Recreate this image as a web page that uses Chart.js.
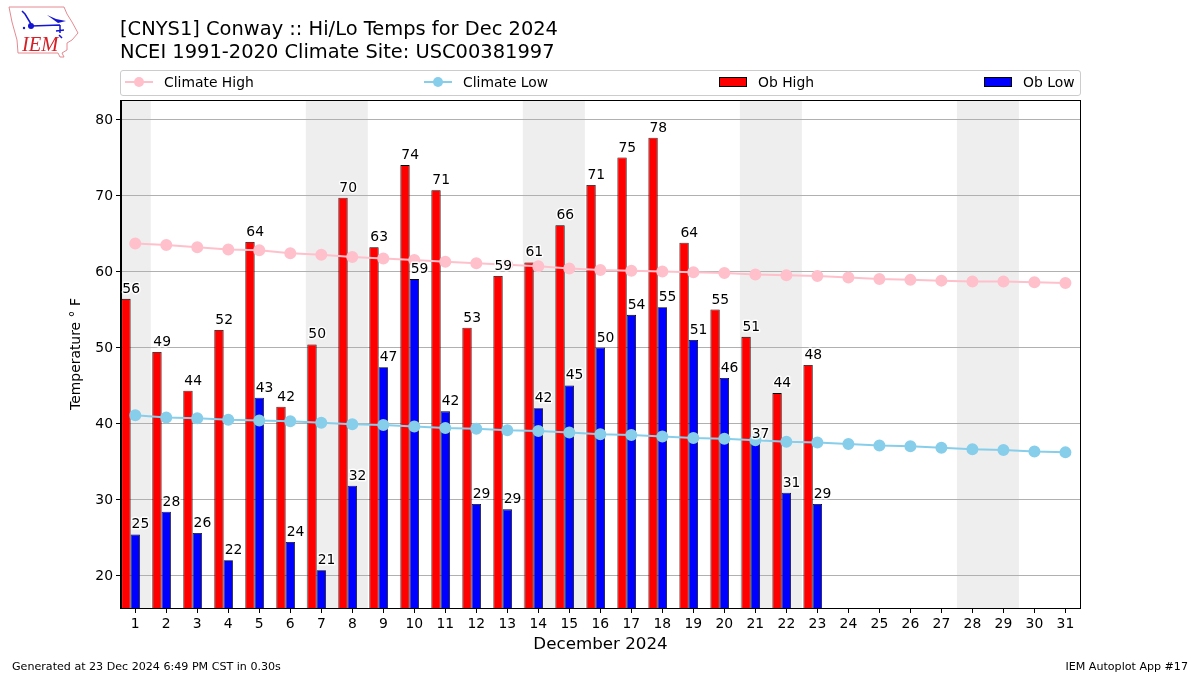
<!DOCTYPE html>
<html>
<head>
<meta charset="utf-8">
<title>Conway Hi/Lo Temps for Dec 2024</title>
<script src="https://cdn.jsdelivr.net/npm/chart.js@4/dist/chart.umd.min.js"></script>
<style>
  html, body { margin: 0; padding: 0; background: #fff; }
  body { position: relative; width: 1200px; height: 675px; overflow: hidden; font-family: "DejaVu Sans", sans-serif; color: #000; }
  canvas { position: absolute; left: 0; top: 0; }
  #logo { position: absolute; left: 0; top: 0; }
  #title { position: absolute; left: 120px; top: 18px; font-size: 19.45px; line-height: 22.6px; white-space: pre; }
  #legend { position: absolute; left: 120px; top: 70px; width: 959px; height: 24px; border: 1px solid #ccc; border-radius: 3px; font-size: 13.9px; }
  .item { position: absolute; top: 0; height: 24px; line-height: 22px; white-space: nowrap; }
  .item svg { position: absolute; left: 0; top: 0; }
  .item span { position: absolute; left: 39px; }
  .foot { position: absolute; top: 660px; font-size: 11.1px; line-height: 13px; white-space: nowrap; }
</style>
</head>
<body>
<canvas id="chart" width="1200" height="675"></canvas>
<svg id="logo" width="90" height="62" viewBox="0 0 90 62">
  <path d="M9 7 L64 7 L67 14 L72 22 L78 33 L72 40 L67 43 L67 50 L62 53 L64 57 L60 57 L58 53 L18 53 L17 40 L12 22 Z" fill="none" stroke="#e58a90" stroke-width="1"/>
  <path d="M31 26 L60 25 M31 24 L25 14 L22 11 M60 25 L60 33 M56 31 L64 30 M59 35 L62 38" stroke="#1414d2" stroke-width="1.5" fill="none"/>
  <path d="M47 15 L56 19 L66 21 L58 23 Z" fill="#1414d2"/>
  <circle cx="31" cy="26" r="3" fill="#1414d2"/>
  <circle cx="24" cy="28" r="1.2" fill="#1414d2"/>
  <text x="22" y="51" font-family="Liberation Serif" font-style="italic" font-size="20.5" fill="#d62027">IEM</text>
</svg>
<div id="title">[CNYS1] Conway :: Hi/Lo Temps for Dec 2024
NCEI 1991-2020 Climate Site: USC00381997</div>
<div id="legend"></div>
<div class="foot" style="left:12px">Generated at 23 Dec 2024 6:49 PM CST in 0.30s</div>
<div class="foot" style="right:12px">IEM Autoplot App #17</div>
<script>
const DAYS = Array.from({ length: 31 }, (_, i) => i + 1);
const Y_TICKS = [20, 30, 40, 50, 60, 70, 80];

const CLIMATE_HIGH = [63.7, 63.5, 63.2, 62.9, 62.8, 62.4, 62.2, 61.9, 61.7, 61.5, 61.3, 61.1, 60.9, 60.7, 60.4, 60.2,
  60.1, 60.0, 59.9, 59.8, 59.6, 59.5, 59.4, 59.2, 59.0, 58.9, 58.8, 58.7, 58.7, 58.6, 58.5];
const CLIMATE_LOW = [41.1, 40.8, 40.7, 40.5, 40.4, 40.3, 40.1, 39.9, 39.8, 39.6, 39.4, 39.3, 39.1, 39.0, 38.8, 38.6,
  38.5, 38.3, 38.1, 38.0, 37.8, 37.6, 37.5, 37.3, 37.1, 37.0, 36.8, 36.6, 36.5, 36.3, 36.2];
const OB_HIGH = [56.4, 49.4, 44.3, 52.3, 63.9, 42.2, 50.4, 69.7, 63.2, 74.0, 70.7, 52.6, 59.4, 61.2, 66.1, 71.4,
  75.0, 77.6, 63.8, 55.0, 51.4, 44.0, 47.7];
const OB_LOW = [25.4, 28.4, 25.6, 22.0, 43.4, 24.4, 20.7, 31.8, 47.4, 59.0, 41.6, 29.4, 28.7, 42.0, 45.0, 50.0,
  54.3, 55.3, 51.0, 46.0, 37.3, 30.9, 29.4];
// weekends get a grey band, as day ranges
const WEEKENDS = [[0.5, 1.5], [6.5, 8.5], [13.5, 15.5], [20.5, 22.5], [27.5, 29.5]];

// the original puts the high bar at day-0.3 and the low bar at day, so the pair sits left of the tick
const BAR_PAIR_SHIFT = -0.15;

const toPoints = (values, shift = 0) => values.map((v, i) => ({ x: DAYS[i] + shift, y: v }));

const weekendBands = {
  id: 'weekendBands',
  beforeDraw(chart) {
    const { ctx, chartArea: a, scales: { x } } = chart;
    ctx.save();
    ctx.fillStyle = '#eeeeee';
    for (const [from, to] of WEEKENDS) {
      const x0 = Math.max(x.getPixelForValue(from), a.left);
      ctx.fillRect(x0, a.top, x.getPixelForValue(to) - x0, a.bottom - a.top);
    }
    ctx.restore();
  },
};

// value above each bar, left edge lined up with the bar, white halo
const barLabels = {
  id: 'barLabels',
  afterDatasetsDraw(chart) {
    const { ctx } = chart;
    ctx.save();
    ctx.font = '13.9px "DejaVu Sans"';
    ctx.textAlign = 'left';
    ctx.textBaseline = 'alphabetic';
    ctx.lineJoin = 'round';
    chart.data.datasets.forEach((ds, i) => {
      if (ds.type !== 'bar') return;
      chart.getDatasetMeta(i).data.forEach((bar, j) => {
        const text = String(Math.round(ds.data[j].y));
        const left = bar.x - bar.width / 2 + 1;
        ctx.lineWidth = 3;
        ctx.strokeStyle = 'rgba(255,255,255,0.9)';
        ctx.strokeText(text, left, bar.y - 6);
        ctx.fillStyle = '#000';
        ctx.fillText(text, left, bar.y - 6);
      });
    });
    ctx.restore();
  },
  afterDraw(chart) {
    const { ctx, chartArea: a } = chart;
    ctx.save();
    ctx.strokeStyle = '#000';
    ctx.lineWidth = 1;
    ctx.strokeRect(a.left - 0.5, a.top + 0.5, a.right - a.left + 1, a.bottom - a.top);
    ctx.restore();
  },
};

const chart = new Chart(document.getElementById('chart'), {
  data: {
    datasets: [
      { type: 'line', label: 'Climate High', data: toPoints(CLIMATE_HIGH), borderColor: '#ffc0cb', backgroundColor: '#ffc0cb', borderWidth: 2, pointRadius: 5, tension: 0 },
      { type: 'line', label: 'Climate Low', data: toPoints(CLIMATE_LOW), borderColor: '#87ceeb', backgroundColor: '#87ceeb', borderWidth: 2, pointRadius: 5, tension: 0 },
      { type: 'bar', label: 'Ob High', data: toPoints(OB_HIGH, BAR_PAIR_SHIFT), backgroundColor: '#ff0000', borderColor: '#000', borderWidth: 0.8, categoryPercentage: 0.6, barPercentage: 1 },
      { type: 'bar', label: 'Ob Low', data: toPoints(OB_LOW, BAR_PAIR_SHIFT), backgroundColor: '#0000ff', borderColor: '#000', borderWidth: 0.8, categoryPercentage: 0.6, barPercentage: 1 },
    ],
  },
  options: {
    responsive: false,
    animation: false,
    layout: { padding: { left: 68, top: 100, right: 120, bottom: 20 } },
    plugins: { legend: { display: false }, title: { display: false }, tooltip: { enabled: false } },
    scales: {
      x: {
        type: 'linear',
        offset: false,
        min: 0.54,
        max: 31.47,
        afterBuildTicks: (s) => { s.ticks = DAYS.map((d) => ({ value: d })); },
        afterFit: (s) => { s.height = 47; },
        grid: { offset: false, drawOnChartArea: false, color: '#000', tickLength: 5 },
        border: { color: '#000' },
        ticks: { autoSkip: false, maxRotation: 0, color: '#000', font: { family: 'DejaVu Sans', size: 13.9 }, padding: 3 },
        title: { display: true, text: 'December 2024', color: '#000', font: { family: 'DejaVu Sans', size: 16.7 }, padding: { top: 5, bottom: 0 } },
      },
      y: {
        min: 15.72,
        max: 82.57,
        afterBuildTicks: (s) => { s.ticks = Y_TICKS.map((v) => ({ value: v })); },
        afterFit: (s) => { s.width = 53; },
        grid: { color: '#b0b0b0', tickColor: '#000', lineWidth: 1, tickLength: 5 },
        border: { color: '#000' },
        ticks: { color: '#000', font: { family: 'DejaVu Sans', size: 13.9 }, padding: 3, labelOffset: 1 },
        title: { display: true, text: 'Temperature ° F', color: '#000', font: { family: 'DejaVu Sans', size: 13.9 }, padding: { top: 0, bottom: 4 } },
      },
    },
  },
  plugins: [weekendBands, barLabels],
});

// legend is laid out in html so the four columns can spread over the full plot width
const LEGEND_LEFT = [4, 303, 598, 863];
chart.data.datasets.forEach((ds, i) => {
  const item = document.createElement('div');
  item.className = 'item';
  item.style.left = LEGEND_LEFT[i] + 'px';
  const mark = ds.type === 'line'
    ? `<line x1="0" x2="28" y1="11" y2="11" stroke="${ds.borderColor}" stroke-width="2"/><circle cx="14" cy="11" r="5" fill="${ds.borderColor}"/>`
    : `<rect x="0.5" y="6.5" width="27" height="9" fill="${ds.backgroundColor}" stroke="#000"/>`;
  item.innerHTML = `<svg width="28" height="24">${mark}</svg><span>${ds.label}</span>`;
  document.getElementById('legend').appendChild(item);
});
</script>
</body>
</html>
